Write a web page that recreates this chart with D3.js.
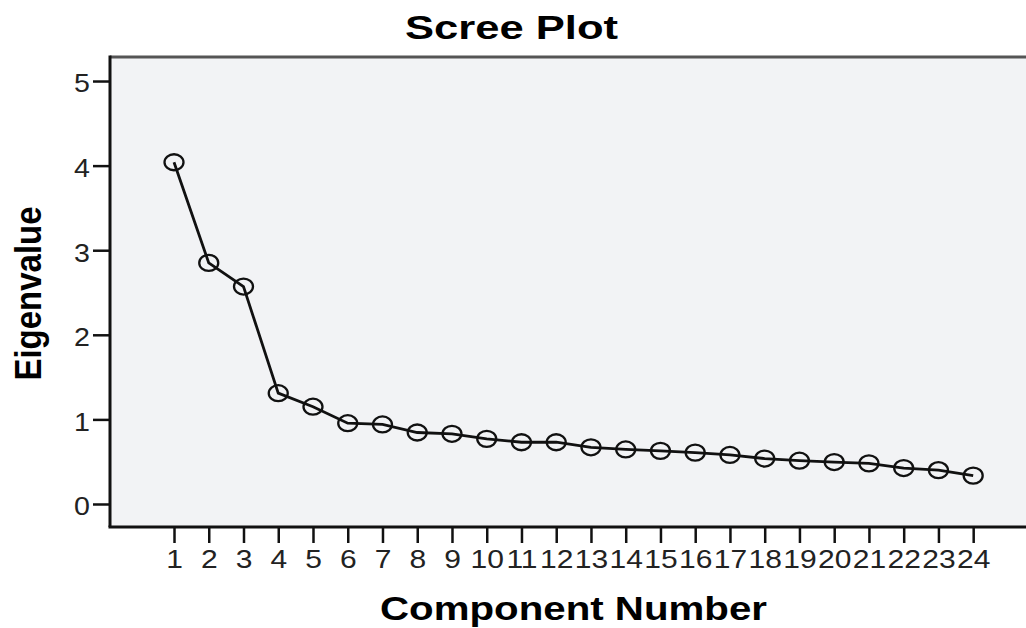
<!DOCTYPE html>
<html>
<head>
<meta charset="utf-8">
<script src="https://cdn.jsdelivr.net/npm/d3@7"></script>
<style>
  html, body { margin: 0; padding: 0; background: #fff; }
  svg { display: block; font-family: "Liberation Sans", Arial, sans-serif; }
</style>
</head>
<body>
<svg id="chart" width="1026" height="628"></svg>
<script>
const components = [1,2,3,4,5,6,7,8,9,10,11,12,13,14,15,16,17,18,19,20,21,22,23,24];
const eigenvalues = [4.04,2.85,2.57,1.31,1.15,0.955,0.94,0.845,0.83,0.77,0.73,0.73,0.67,0.645,0.628,0.607,0.58,0.537,0.512,0.496,0.48,0.425,0.40,0.335];
const yTickValues = [0,1,2,3,4,5];
const chartTitle = "Scree Plot";
const xTitle = "Component Number";
const yTitle = "Eigenvalue";

const svg = d3.select("#chart");
const pLeft = 110, pRight = 1026, pTop = 57, pBottom = 527;

const x = d3.scaleLinear().domain([-0.842, 25.52]).range([pLeft, pRight]);
const y = d3.scaleLinear().domain([-0.272, 5.284]).range([pBottom, pTop]);

// plot background
svg.append("rect")
  .attr("x", pLeft).attr("y", pTop)
  .attr("width", pRight - pLeft + 10).attr("height", pBottom - pTop)
  .attr("fill", "#f2f3f5");

// top border
svg.append("line")
  .attr("x1", pLeft).attr("x2", pRight + 10)
  .attr("y1", pTop).attr("y2", pTop)
  .attr("stroke", "#555").attr("stroke-width", 3);

// line
const line = d3.line().x((d, i) => x(components[i])).y(d => y(d));
svg.append("path")
  .datum(eigenvalues)
  .attr("d", line)
  .attr("fill", "none")
  .attr("stroke", "#111")
  .attr("stroke-width", 2.8);

// markers
svg.selectAll("ellipse.pt")
  .data(eigenvalues)
  .enter().append("ellipse")
  .attr("class", "pt")
  .attr("cx", (d, i) => x(components[i]))
  .attr("cy", d => y(d))
  .attr("rx", 9.5).attr("ry", 8)
  .attr("fill", "none")
  .attr("stroke", "#111")
  .attr("stroke-width", 2.3);

// y axis
const yAxis = d3.axisLeft(y).tickValues(yTickValues).tickSize(17).tickPadding(3).tickFormat(d3.format("d"));
const gy = svg.append("g").attr("transform", `translate(${pLeft},0)`).call(yAxis);
gy.select(".domain").attr("stroke", "#111").attr("stroke-width", 3)
  .attr("d", `M0,${pTop - 1.5}V${pBottom}`);
gy.selectAll(".tick line").attr("stroke", "#111").attr("stroke-width", 2.5);
gy.selectAll(".tick text")
  .attr("fill", "#222")
  .style("font-size", "26px")
  .attr("x", -20 / 1.1)
  .attr("dy", "0.42em")
  .attr("transform", "scale(1.1,1)");

// x axis
const xAxis = d3.axisBottom(x).tickValues(components).tickSize(16).tickPadding(7).tickFormat(d3.format("d"));
const gx = svg.append("g").attr("transform", `translate(0,${pBottom})`).call(xAxis);
gx.select(".domain").attr("stroke", "#111").attr("stroke-width", 3)
  .attr("d", `M${pLeft - 1.5},0H${pRight + 10}`);
gx.selectAll(".tick line").attr("stroke", "#111").attr("stroke-width", 2.5);
gx.selectAll(".tick text")
  .attr("fill", "#222")
  .style("font-size", "25px")
  .attr("dy", "0.71em")
  .attr("transform", "scale(1.2,1)");

// titles
svg.append("text")
  .attr("x", 511.5).attr("y", 39)
  .attr("text-anchor", "middle")
  .style("font-size", "33px").style("font-weight", "bold")
  .attr("textLength", 213).attr("lengthAdjust", "spacingAndGlyphs")
  .text(chartTitle);

svg.append("text")
  .attr("x", 573.5).attr("y", 620)
  .attr("text-anchor", "middle")
  .style("font-size", "33px").style("font-weight", "bold")
  .attr("textLength", 387).attr("lengthAdjust", "spacingAndGlyphs")
  .text(xTitle);

svg.append("text")
  .attr("transform", "translate(41,293.5) scale(1.14,1) rotate(-90)")
  .attr("text-anchor", "middle")
  .style("font-size", "33px").style("font-weight", "bold")
  .text(yTitle);
</script>
</body>
</html>
